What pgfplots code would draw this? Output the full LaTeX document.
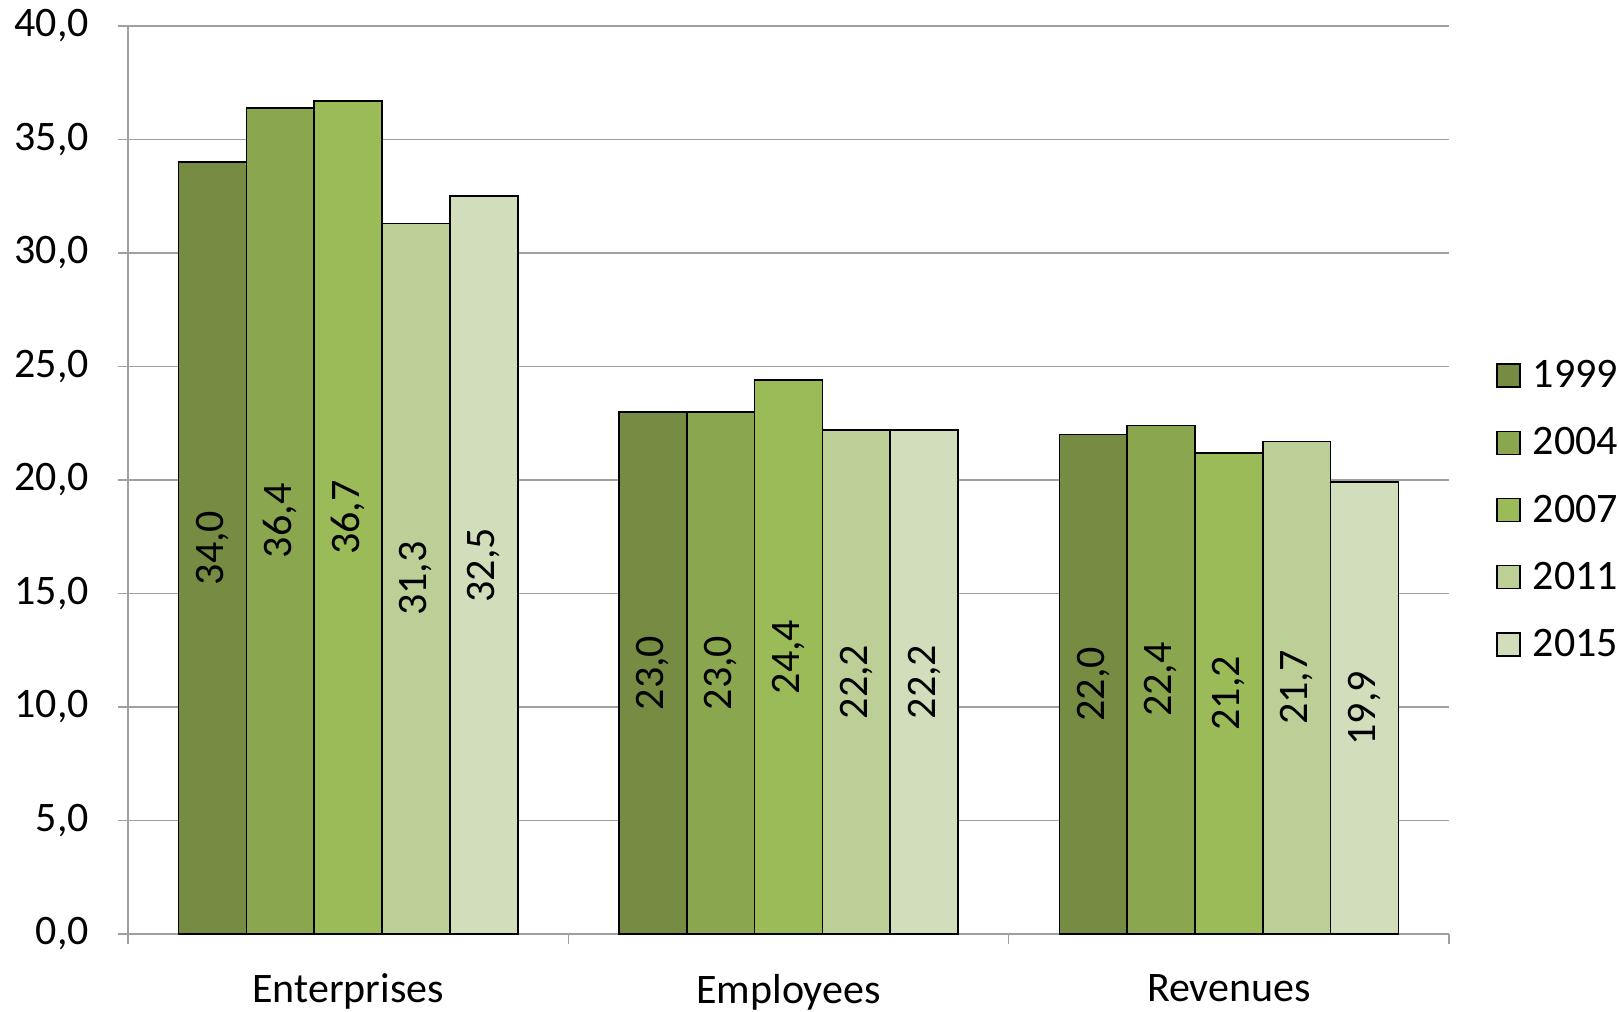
\documentclass[border=0pt]{standalone}
\usepackage{pgfplots}
\pgfplotsset{compat=1.18}
\usepackage{fontspec}
\setmainfont{Carlito}
\definecolor{c1}{HTML}{768C42}
\definecolor{c2}{HTML}{8AA64F}
\definecolor{c3}{HTML}{9BBB59}
\definecolor{c4}{HTML}{BBCF96}
\definecolor{c5}{HTML}{D1DDBB}
\definecolor{axgray}{HTML}{A0A0A0}
\begin{document}
\begin{tikzpicture}
\begin{axis}[
  name=ax,
  scale only axis,
  width=660.5pt, height=454pt,
  xmin=-0.5, xmax=2.5,
  ymin=0, ymax=40,
  ybar=0pt, bar width=0.154,
  axis x line*=bottom, axis y line*=left,
  axis line style={axgray, line width=0.8pt},
  ytick={0,5,...,40},
  ymajorgrids,
  major grid style={axgray, line width=0.8pt},
  xtick={0,1,2},
  xticklabels={Enterprises,Employees,Revenues},
  minor xtick={-0.5,0.5,1.5,2.5},
  tick align=outside,
  major tick length=5pt,
  minor tick length=5pt,
  x tick style={draw=none},
  minor x tick style={draw=axgray, line width=0.8pt},
  y tick style={draw=axgray, line width=0.8pt},
  /pgf/number format/.cd, use comma, fixed, fixed zerofill, precision=1, assume math mode=true,
  /pgfplots/.cd,
  tick label style={font=\fontsize{21}{25}\selectfont, text=black},
  xticklabel style={yshift=-11.5pt},
  yticklabel style={xshift=-11pt},
  legend style={draw=none, fill=none, inner sep=0pt, at={([xshift=23.5pt,yshift=-15pt]rel axis cs:1,0.5)}, anchor=west,
    font=\fontsize{21}{25}\selectfont, row sep=14.5pt, legend cell align=left},
  legend image code/.code={\draw[#1, draw=black, line width=0.7pt] (0pt,-5.75pt) rectangle (11.5pt,5.75pt); \path (15.5pt,0pt);},
  nodes near coords,
  visualization depends on=y \as \rawy,
  every node near coord/.append style={shift={(axis direction cs:0,-\rawy/2)}, rotate=90, anchor=center, font=\fontsize{21}{25}\selectfont, text=black},
  every axis plot/.append style={draw=black, line width=0.8pt},
]
\addplot[fill=c1] coordinates {(0,34.0) (1,23.0) (2,22.0)};
\addplot[fill=c2] coordinates {(0,36.4) (1,23.0) (2,22.4)};
\addplot[fill=c3] coordinates {(0,36.7) (1,24.4) (2,21.2)};
\addplot[fill=c4] coordinates {(0,31.3) (1,22.2) (2,21.7)};
\addplot[fill=c5] coordinates {(0,32.5) (1,22.2) (2,19.9)};
\legend{1999,2004,2007,2011,2015}
\end{axis}
\pgfresetboundingbox
\path ([xshift=-64pt,yshift=-38.5pt]ax.south west) rectangle ([xshift=85pt,yshift=13pt]ax.north east);
\end{tikzpicture}
\end{document}
